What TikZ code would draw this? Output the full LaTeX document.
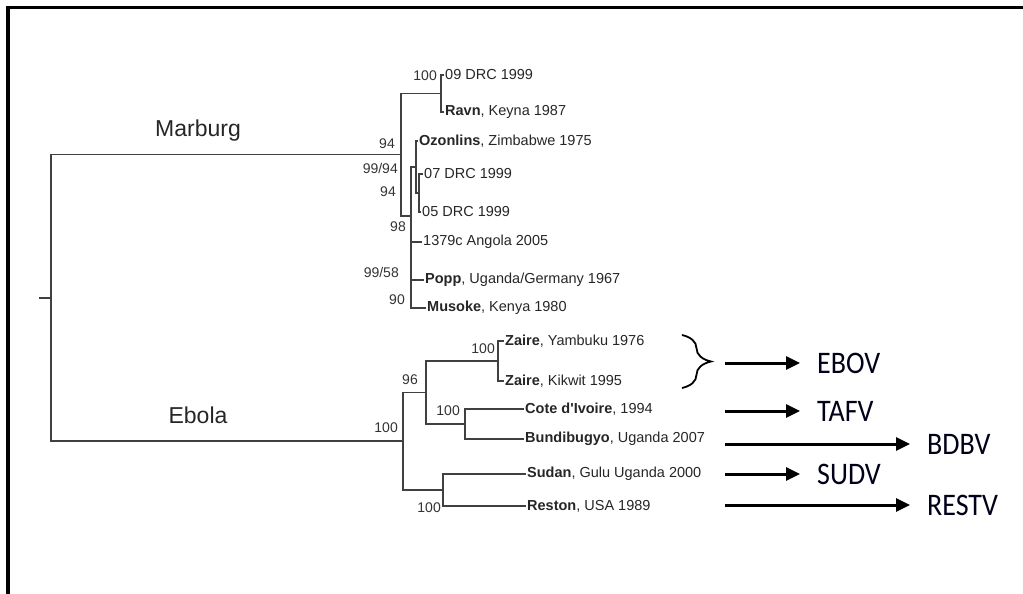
\documentclass[tikz,border=0pt]{standalone}
\usepackage{fontspec}
\setmainfont{Liberation Sans}
\newfontfamily\labfont{Carlito}
\usepackage{tikz}
\usetikzlibrary{arrows.meta,decorations.pathreplacing}
\newcommand\tallvir[1]{\scalebox{1}[1.12]{#1}}

\begin{document}
\begin{tikzpicture}[x=1pt,y=-1pt,
		br/.style={draw=black!75,line width=1.2pt},
		tip/.style={anchor=west,inner sep=1.5pt,text=black!85,font=\fontsize{14.5}{17}\selectfont},
		bs/.style={anchor=east,inner sep=1pt,text=black!80,font=\fontsize{14}{16}\selectfont},
		clade/.style={text=black!85,font=\fontsize{23}{27}\selectfont},
		arr/.style={line width=3pt,-{Triangle[length=14pt,width=13pt]}},
		vir/.style={anchor=west,inner xsep=17pt,inner ysep=0pt,text=black!90!blue,font=\labfont\fontsize{28}{32}\selectfont}]
		% 边框
		\useasboundingbox (0,0) rectangle (1023,594);
		\draw[line width=3.5pt] (8,594) -- (8,7.5) -- (1023,7.5);
		% 内部结点
		\coordinate (stub) at (39,298);
		\coordinate (root) at (51,298);
		\coordinate (m1) at (401,154.5);
		\coordinate (m2) at (441,93.5);
		\coordinate (m3) at (411,216);
		\coordinate (m4) at (416,167);
		\coordinate (m5) at (419,193);
		\coordinate (e1) at (403,441);
		\coordinate (e2) at (426,392.5);
		\coordinate (zn) at (498,361);
		\coordinate (e3) at (465,424);
		\coordinate (sr) at (443,490);
		% 叶结点
		\node[tip] (drc09) at (443.5,75) {09 DRC 1999};
		\node[tip] (ravn) at (443.5,112) {\textbf{Ravn}, Keyna 1987};
		\node[tip] (ozon) at (417.5,141) {\textbf{Ozonlins}, Zimbabwe 1975};
		\node[tip] (drc07) at (422.5,174) {07 DRC 1999};
		\node[tip] (drc05) at (420.5,212) {05 DRC 1999};
		\node[tip] (angola) at (421.5,242) {1379c Angola 2005};
		\node[tip] (popp) at (423.5,280) {\textbf{Popp}, Uganda/Germany 1967};
		\node[tip] (musoke) at (425.5,308) {\textbf{Musoke}, Kenya 1980};
		\node[tip] (zy) at (503.5,341) {\textbf{Zaire}, Yambuku 1976};
		\node[tip] (zk) at (503.5,381) {\textbf{Zaire}, Kikwit 1995};
		\node[tip] (cote) at (523.5,409) {\textbf{Cote d\textquotesingle Ivoire}, 1994};
		\node[tip] (bundi) at (523.5,439) {\textbf{Bundibugyo}, Uganda 2007};
		\node[tip] (sudan) at (525.5,474) {\textbf{Sudan}, Gulu Uganda 2000};
		\node[tip] (reston) at (525.5,506) {\textbf{Reston}, USA 1989};
		% 分支
		\draw[br] (stub) -- (root);
		\draw[br] (root) |- (m1);
		\draw[br] (root) |- (e1);
		\draw[br] (m1) |- (m2);
		\draw[br] (m1) |- (m3);
		\draw[br] (m2) |- (drc09.west);
		\draw[br] (m2) |- (ravn.west);
		\draw[br] (m3) |- (m4);
		\draw[br] (m3) |- (angola.west);
		\draw[br] (m3) |- (popp.west);
		\draw[br] (m3) |- (musoke.west);
		\draw[br] (m4) |- (ozon.west);
		\draw[br] (m4) |- (m5);
		\draw[br] (m5) |- (drc07.west);
		\draw[br] (m5) |- (drc05.west);
		\draw[br] (e1) |- (e2);
		\draw[br] (e1) |- (sr);
		\draw[br] (e2) |- (zn);
		\draw[br] (e2) |- (e3);
		\draw[br] (zn) |- (zy.west);
		\draw[br] (zn) |- (zk.west);
		\draw[br] (e3) |- (cote.west);
		\draw[br] (e3) |- (bundi.west);
		\draw[br] (sr) |- (sudan.west);
		\draw[br] (sr) |- (reston.west);
		% 类群名称
		\node[clade] (marb) at (198,131) {Marburg};
		\node[clade] (ebo) at (198,415) {Ebola};
		% 支持率
		\node[bs] (b1) at (438,76) {100};
		\node[bs] (b2) at (396,144) {94};
		\node[bs] (b3) at (399,168) {99/94};
		\node[bs] (b4) at (397,192) {94};
		\node[bs] (b5) at (407,227) {98};
		\node[bs] (b6) at (400,272) {99/58};
		\node[bs] (b7) at (406,300) {90};
		\node[bs] (b8) at (496,349) {100};
		\node[bs] (b9) at (419,380) {96};
		\node[bs] (b10) at (461,411) {100};
		\node[bs] (b11) at (399,428) {100};
		\node[bs] (b12) at (442,508) {100};
		% 花括号与箭头
		\coordinate (brt) at (682,335);
		\coordinate (brb) at (682,388);
		\draw[line width=1.8pt,decorate,decoration={brace,amplitude=29pt}] (brt) -- (brb);
		\coordinate (s1) at (725,363);
		\coordinate (s2) at (725,411);
		\coordinate (s3) at (725,444);
		\coordinate (s4) at (725,474);
		\coordinate (s5) at (725,505);
		\node[vir] (ebov) at (800,363) {\tallvir{EBOV}};
		\node[vir] (tafv) at (800,411) {\tallvir{TAFV}};
		\node[vir] (bdbv) at (910,444) {\tallvir{BDBV}};
		\node[vir] (sudv) at (800,474) {\tallvir{SUDV}};
		\node[vir] (restv) at (910,505) {\tallvir{RESTV}};
		\draw[arr] (s1) -- (ebov.west);
		\draw[arr] (s2) -- (tafv.west);
		\draw[arr] (s3) -- (bdbv.west);
		\draw[arr] (s4) -- (sudv.west);
		\draw[arr] (s5) -- (restv.west);
	\end{tikzpicture}
\end{document}
